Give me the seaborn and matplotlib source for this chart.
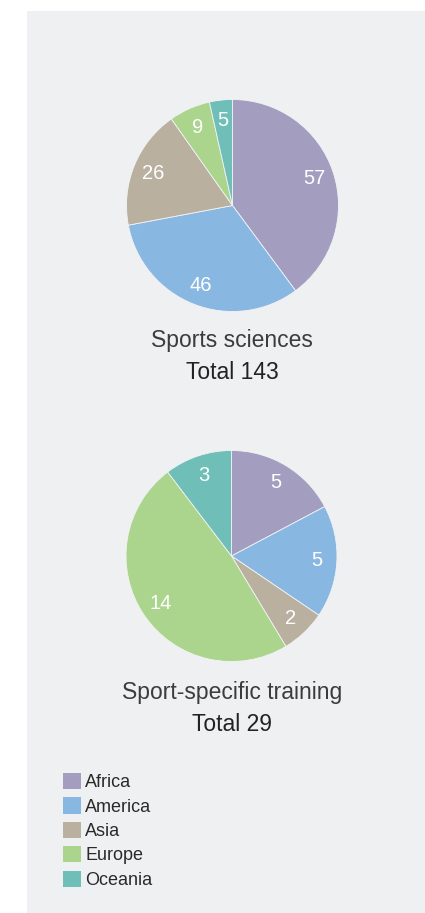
import matplotlib
matplotlib.use("Agg")
import matplotlib.pyplot as plt
from matplotlib.patches import Rectangle, Patch
import seaborn as sns

# ---- data ----
regions = ["Africa", "America", "Asia", "Europe", "Oceania"]
sports_sciences = [57, 46, 26, 9, 5]
sport_specific_training = [5, 5, 2, 14, 3]
chart_titles = ["Sports sciences", "Sport-specific training"]
region_colors = ["#A39EC0", "#88B8E2", "#B9B0A0", "#ABD48D", "#6FBFB8"]

sns.set_theme(style="white")
palette = sns.color_palette(region_colors)
plt.rcParams["font.family"] = ["Liberation Sans", "DejaVu Sans"]

W, H = 425, 913
fig = plt.figure(figsize=(W / 100, H / 100), dpi=100)
fig.patch.set_facecolor("white")
fig.add_artist(Rectangle((27 / W, 0), 1 - 27 / W, 1 - 11 / H,
                         transform=fig.transFigure, facecolor="#EFF0F2",
                         edgecolor="none", zorder=0))


def px_axes(cx, cy, r):
    ax = fig.add_axes([(cx - r) / W, 1 - (cy + r) / H, 2 * r / W, 2 * r / H])
    ax.set_facecolor("none")
    return ax


def draw_pie(ax, values):
    total = sum(values)
    ax.pie(values, colors=palette, startangle=90, counterclock=False,
           autopct=lambda p, t=total: f"{p * t / 100:.0f}",
           pctdistance=0.81,
           wedgeprops=dict(linewidth=0.6, edgecolor="#F3F3F5"),
           textprops=dict(color="white", fontsize=14.5))
    ax.set_xlim(-1, 1)
    ax.set_ylim(-1, 1)
    ax.set_aspect("equal")
    ax.axis("off")
    return total


def add_titles(cx, y1, y2, title, total):
    fig.text(cx / W, 1 - y1 / H, title, ha="center", va="baseline",
             fontsize=16.5, color="#3C3C3C")
    fig.text(cx / W, 1 - y2 / H, f"Total {total}", ha="center", va="baseline",
             fontsize=16.5, color="#222222")


ax1 = px_axes(232.5, 205.5, 106)
t1 = draw_pie(ax1, sports_sciences)
add_titles(232, 347, 379, chart_titles[0], t1)

ax2 = px_axes(231.5, 556, 105.5)
t2 = draw_pie(ax2, sport_specific_training)
add_titles(232, 699, 731, chart_titles[1], t2)

handles = [Patch(facecolor=c, edgecolor="none") for c in palette]
fig.legend(handles, regions, loc="upper left",
           bbox_to_anchor=(63 / W, 1 - 773 / H), bbox_transform=fig.transFigure,
           frameon=False, fontsize=13, handlelength=1.0, handleheight=1.0,
           handletextpad=0.22, labelspacing=0.34, borderpad=0, borderaxespad=0,
           labelcolor="#2A2A2A")

fig.savefig("out.png", dpi=100)
